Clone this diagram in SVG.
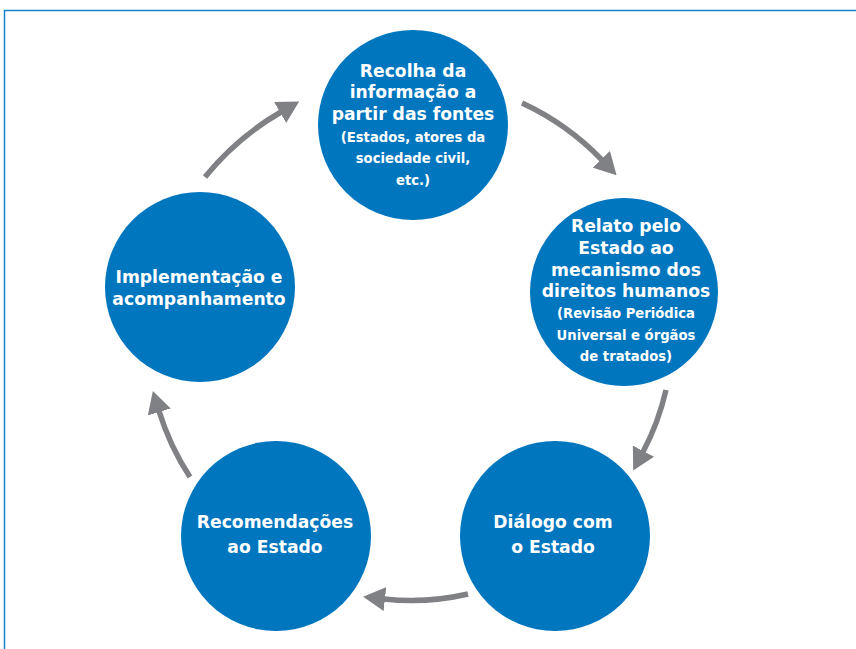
<svg xmlns="http://www.w3.org/2000/svg" width="856" height="649" viewBox="0 0 856 649">
  <defs>
    <style>
      .node circle { fill: #0076BF; }
      .node text { fill: #ffffff; font-family: "DejaVu Sans", "Liberation Sans", sans-serif; font-weight: bold; text-anchor: middle; }
      .big { font-size: 17.2px; }
      .small { font-size: 13.2px; }
      .conn path { fill: none; stroke: #808184; stroke-width: 5.5; marker-end: url(#head); }
    </style>
    <marker id="head" viewBox="0 0 22 24" refX="1" refY="12" markerWidth="22" markerHeight="24" markerUnits="userSpaceOnUse" orient="auto">
      <path d="M0,0 L22,12 L0,24 Z" fill="#808184"/>
    </marker>
  </defs>
  <rect width="856" height="649" fill="#ffffff"/>
  <rect x="4.5" y="10.5" width="900" height="700" fill="none" stroke="#1580CF" stroke-width="1.5"/>

  <g id="connectors" class="conn">
    <path d="M522,103 A265,265 0 0,1 602,160"/>
    <path d="M666,390 A255,255 0 0,1 643,452"/>
    <path d="M468,594 A250,250 0 0,1 384,599"/>
    <path d="M190,477 A258,258 0 0,1 159,411"/>
    <path d="M205,177 A275,275 0 0,1 281,112"/>
  </g>

  <g id="node-recolha" class="node">
    <circle cx="413" cy="125" r="95"/>
    <text class="big" x="413" y="77">Recolha da</text>
    <text class="big" x="413" y="98">informação a</text>
    <text class="big" x="413" y="120">partir das fontes</text>
    <text class="small" x="413" y="142">(Estados, atores da</text>
    <text class="small" x="413" y="163">sociedade civil,</text>
    <text class="small" x="413" y="185">etc.)</text>
  </g>

  <g id="node-relato" class="node">
    <circle cx="624" cy="292" r="94"/>
    <text class="big" x="626" y="232">Relato pelo</text>
    <text class="big" x="626" y="254">Estado ao</text>
    <text class="big" x="626" y="276">mecanismo dos</text>
    <text class="big" x="626" y="297">direitos humanos</text>
    <text class="small" x="626" y="318">(Revisão Periódica</text>
    <text class="small" x="626" y="340">Universal e órgãos</text>
    <text class="small" x="626" y="361">de tratados)</text>
  </g>

  <g id="node-dialogo" class="node">
    <circle cx="555" cy="536" r="95"/>
    <text class="big" x="553" y="528">Diálogo com</text>
    <text class="big" x="553" y="553">o Estado</text>
  </g>

  <g id="node-recomendacoes" class="node">
    <circle cx="276" cy="536" r="95"/>
    <text class="big" x="275" y="528">Recomendações</text>
    <text class="big" x="275" y="553">ao Estado</text>
  </g>

  <g id="node-implementacao" class="node">
    <circle cx="200" cy="287" r="95"/>
    <text class="big" x="199" y="283">Implementação e</text>
    <text class="big" x="199" y="305">acompanhamento</text>
  </g>
</svg>
